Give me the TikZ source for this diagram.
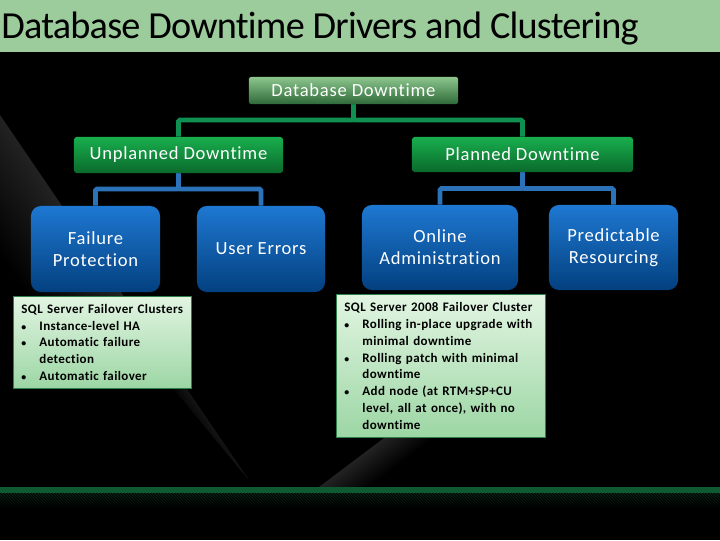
\documentclass[tikz,border=0pt]{standalone}
\usepackage{fontspec}
\setmainfont{Carlito}
\newfontfamily\titlefont[LetterSpace=-2,Ligatures=NoCommon]{Carlito}
\newfontfamily\labelfont[LetterSpace=4,Ligatures=NoCommon]{Carlito}
\newfontfamily\listfont[LetterSpace=3,Ligatures=NoCommon]{Carlito}
\usepackage{tikz}
\usetikzlibrary{positioning,calc,backgrounds}

\definecolor{headgreen}{HTML}{9CCB9C}
\definecolor{bandgreen}{HTML}{0F5A30}
\definecolor{bandshade}{HTML}{0B2C1A}
\definecolor{linegreen}{HTML}{109050}
\definecolor{lineblue}{HTML}{2C72B8}
\definecolor{roottop}{HTML}{8CC58C}
\definecolor{rootbottom}{HTML}{2F6B3A}
\definecolor{grouptop}{HTML}{19AE4E}
\definecolor{groupbottom}{HTML}{0A6A2B}
\definecolor{itemtop}{HTML}{1E78D2}
\definecolor{itembottom}{HTML}{03407F}
\definecolor{notetop}{HTML}{E2F5E2}
\definecolor{notebottom}{HTML}{9CD6A4}
\definecolor{noteedge}{HTML}{2F7F4A}
\definecolor{glowgray}{HTML}{222222}
\definecolor{glowdim}{HTML}{141414}
\newcommand{\bulletrow}{\makebox[12.8pt][l]{\scriptsize\textbullet}}

\tikzset{
  rootbox/.style={rectangle, rounded corners=1.5pt, inner sep=0pt, minimum width=5.225cm, minimum height=0.675cm,
    top color=roottop, bottom color=rootbottom, text=white, font=\labelfont\fontsize{13.2}{15}\selectfont},
  groupbox/.style={rectangle, rounded corners=2pt, inner sep=0pt, minimum height=0.9cm,
    top color=grouptop, bottom color=groupbottom, text=white, font=\labelfont\fontsize{13.2}{15}\selectfont},
  itembox/.style={rectangle, rounded corners=7pt, inner sep=0pt, minimum height=2.15cm, align=center,
    top color=itemtop, bottom color=itembottom, text=white, font=\labelfont\fontsize{13.2}{15.6}\selectfont},
  notebox/.style={rectangle, draw=noteedge, line width=0.6pt, inner sep=0pt, align=left, anchor=north west,
    top color=notetop, bottom color=notebottom, text=black, font=\listfont\bfseries\fontsize{9.25}{12}\selectfont},
  greenline/.style={draw=linegreen, line width=3.4pt, rounded corners=1pt},
  blueline/.style={draw=lineblue, line width=3.4pt, rounded corners=1pt}
}

\begin{document}
\begin{tikzpicture}[x=0.025cm,y=-0.025cm]
  \fill[black] (0,0) rectangle (720,540);
  \useasboundingbox (0,0) rectangle (720,540);

  % Diagonal glow behind the boxes
  \shade[transform canvas={shift={(0,115)},rotate=-55.7}, top color=glowgray, bottom color=black] (0,0) rectangle (270,80);
  \shade[transform canvas={shift={(0,115)},rotate=-55.7}, top color=glowdim, bottom color=black] (270,0) -- (444,0) -- (270,16) -- cycle;
  \begin{scope}
    \clip (0,437) rectangle (720,487);
    \shade[transform canvas={shift={(319,487)},rotate=37}, top color=glowgray, bottom color=black] (0,0) rectangle (200,30);
  \end{scope}

  % Title bar
  \fill[headgreen] (0,0) rectangle (720,52);
  \node[anchor=base west, inner sep=0pt, font=\titlefont\fontsize{27.2}{30}\selectfont] (title) at (1,38) {Database Downtime Drivers and Clustering};

  % Bottom band
  \shade[top color=bandshade, bottom color=black] (0,493) rectangle (720,508);
  \begin{scope}
    \clip (0,493) rectangle (720,508);
    \foreach \i in {-15,-12,...,720}
      \draw[black, line width=0.7pt] (\i,493) -- ++(15,15);
  \end{scope}
  \fill[bandgreen] (0,487) rectangle (720,493);

  % Top level
  \node[rootbox] (root) at (353.5,90.5) {Database Downtime};

  % Second level
  \node[groupbox, minimum width=5.225cm] (unplanned) at (178.5,155) {Unplanned Downtime};
  \node[groupbox, minimum width=5.525cm, minimum height=0.875cm] (planned) at (522.5,154.5) {Planned Downtime};

  % Third level
  \node[itembox, minimum width=3.225cm] (failure) at (95.5,249) {Failure\\Protection};
  \node[itembox, minimum width=3.2cm] (usererrors) at (261,249) {User Errors};
  \node[itembox, minimum width=3.9cm, minimum height=2.125cm] (online) at (440,247.5) {Online\\Administration};
  \node[itembox, minimum width=3.225cm, minimum height=2.125cm] (predictable) at (613.5,247.5) {Predictable\\Resourcing};

  % Notes
  \node[notebox, text width=4.45cm, minimum height=2.3cm] (failurenote) at (13,296) {\hspace*{5.7pt}SQL Server Failover Clusters\\
    \hspace*{5.7pt}\bulletrow Instance-level HA\\
    \hspace*{5.7pt}\bulletrow Automatic failure\\
    \hspace*{18.5pt}detection\\
    \hspace*{5.7pt}\bulletrow Automatic failover};
  \node[notebox, text width=5.225cm, minimum height=3.575cm] (onlinenote) at (336,294) {\hspace*{5.7pt}SQL Server 2008 Failover Cluster\\
    \hspace*{5.7pt}\bulletrow Rolling in-place upgrade with\\
    \hspace*{18.5pt}minimal downtime\\
    \hspace*{5.7pt}\bulletrow Rolling patch with minimal\\
    \hspace*{18.5pt}downtime\\
    \hspace*{5.7pt}\bulletrow Add node (at RTM+SP+CU\\
    \hspace*{18.5pt}level, all at once), with no\\
    \hspace*{18.5pt}downtime};

  % Connectors
  \coordinate (rootbus) at (353.5,120);
  \coordinate (unplannedbus) at (178.5,189);
  \coordinate (plannedbus) at (522.5,188.5);
  \draw[greenline] (root.south) -- (rootbus) -| (unplanned.north);
  \draw[greenline] (root.south) -- (rootbus) -| (planned.north);
  \draw[blueline] (unplanned.south) -- (unplannedbus) -| (failure.north);
  \draw[blueline] (unplanned.south) -- (unplannedbus) -| (usererrors.north);
  \draw[blueline] (planned.south) -- (plannedbus) -| (online.north);
  \draw[blueline] (planned.south) -- (plannedbus) -| (predictable.north);
\end{tikzpicture}
\end{document}
